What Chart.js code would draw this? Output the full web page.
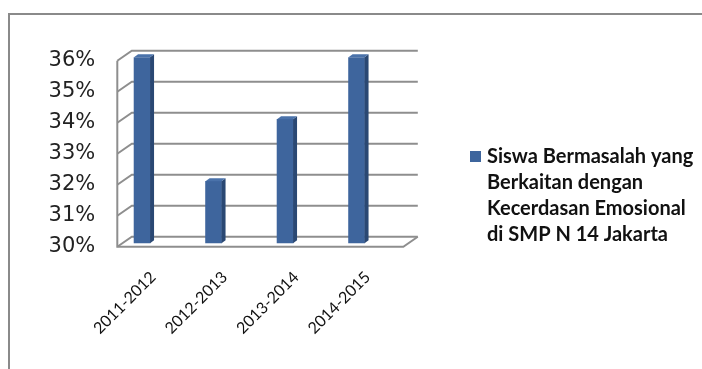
<!DOCTYPE html>
<html>
<head>
<meta charset="utf-8">
<script src="https://cdn.jsdelivr.net/npm/chart.js@4.4.1/dist/chart.umd.min.js"></script>
<style>
  html, body { margin: 0; padding: 0; background: #fff; }
  #wrap { position: relative; width: 702px; height: 369px; }
</style>
</head>
<body>
<div id="wrap"><canvas id="chart"></canvas></div>
<script>
// === DATA ===
const periods = ['2011-2012', '2012-2013', '2013-2014', '2014-2015'];
const siswaPercent = [36, 32, 34, 36];
const yTicks = [30, 31, 32, 33, 34, 35, 36];
const legendLines = ['Siswa Bermasalah yang', 'Berkaitan dengan', 'Kecerdasan Emosional', 'di SMP N 14 Jakarta'];

// === 3D LOOK (estilo Excel) ===
const FRONT = '#3e659d';
const SIDE = '#2a4873';
const TOP = '#4a72aa';
const GRID = '#8e8e8e';
const DEPTH_X = 14.5, DEPTH_Y = -10;       // pared del fondo
const SHIFT_X = -11, SHIFT_Y = -3.4;       // barras dentro de la profundidad
const BAR_SIDE = 4, BAR_RISE = 3;

const frame3d = {
    id: 'frame3d',
    beforeDraw(chart) {
        const ctx = chart.ctx;
        const { left, right, top, bottom } = chart.chartArea;
        const y = chart.scales.y;
        ctx.save();
        // marco exterior
        ctx.strokeStyle = '#8a8a8a';
        ctx.lineWidth = 2;
        ctx.beginPath();
        ctx.moveTo(9, chart.height);
        ctx.lineTo(9, 14);
        ctx.lineTo(chart.width, 14);
        ctx.stroke();
        // líneas de la pared
        ctx.strokeStyle = GRID;
        ctx.lineWidth = 2;
        y.ticks.forEach(t => {
            const py = y.getPixelForValue(t.value);
            ctx.beginPath();
            ctx.moveTo(left, py);
            ctx.lineTo(left + DEPTH_X, py + DEPTH_Y);
            ctx.lineTo(right + DEPTH_X, py + DEPTH_Y);
            ctx.stroke();
        });
        // borde frontal y suelo
        ctx.beginPath();
        ctx.moveTo(left, top);
        ctx.lineTo(left, bottom);
        ctx.lineTo(right, bottom);
        ctx.lineTo(right + DEPTH_X, bottom + DEPTH_Y);
        ctx.stroke();
        ctx.restore();
    },
    beforeDatasetsDraw(chart) {
        chart.ctx.save();
        chart.ctx.translate(SHIFT_X, SHIFT_Y);
    },
    afterDatasetsDraw(chart) {
        const ctx = chart.ctx;
        const floor = chart.chartArea.bottom;
        chart.getDatasetMeta(0).data.forEach(bar => {
            const l = bar.x - bar.width / 2;
            const r = bar.x + bar.width / 2;
            const base = Math.min(bar.base, floor);
            ctx.fillStyle = SIDE;
            ctx.beginPath();
            ctx.moveTo(r, bar.y);
            ctx.lineTo(r + BAR_SIDE, bar.y - BAR_RISE);
            ctx.lineTo(r + BAR_SIDE, base - BAR_RISE);
            ctx.lineTo(r, base);
            ctx.closePath();
            ctx.fill();
            ctx.fillStyle = TOP;
            ctx.beginPath();
            ctx.moveTo(l, bar.y);
            ctx.lineTo(l + BAR_SIDE, bar.y - BAR_RISE);
            ctx.lineTo(r + BAR_SIDE, bar.y - BAR_RISE);
            ctx.lineTo(r, bar.y);
            ctx.closePath();
            ctx.fill();
        });
        ctx.restore();
    },
    afterDraw(chart) {
        // leyenda en varias líneas
        const ctx = chart.ctx;
        ctx.save();
        ctx.fillStyle = FRONT;
        ctx.fillRect(470, 151, 11, 11);
        ctx.fillStyle = '#111';
        ctx.font = 'bold 20px Lato';
        ctx.textBaseline = 'middle';
        legendLines.forEach((line, i) => ctx.fillText(line, 487, 157 + i * 26));
        ctx.restore();
    }
};

const ctx = document.getElementById('chart').getContext('2d');
new Chart(ctx, {
    type: 'bar',
    data: {
        labels: periods,
        datasets: [{
            label: legendLines.join(' '),
            data: siswaPercent,
            backgroundColor: FRONT,
            barThickness: 16
        }]
    },
    options: {
        responsive: true,
        maintainAspectRatio: false,
        animation: false,
        layout: { padding: { left: 0, right: 298.7, top: 60.7, bottom: 0 } },
        plugins: {
            legend: { display: false },
            tooltip: { enabled: false }
        },
        scales: {
            y: {
                min: yTicks[0],
                max: yTicks[yTicks.length - 1],
                border: { display: false },
                grid: { display: false, drawTicks: false },
                afterFit: scale => { scale.width = 117.3; },
                ticks: {
                    stepSize: 1,
                    padding: 22,
                    color: '#222',
                    font: { family: 'DejaVu Sans', size: 21 },
                    callback: value => value + '%'
                }
            },
            x: {
                border: { display: false },
                grid: { display: false, drawTicks: false },
                afterFit: scale => { scale.height = 122.3; },
                ticks: {
                    minRotation: 45,
                    maxRotation: 45,
                    padding: 21,
                    color: '#111',
                    font: { family: 'Lato', size: 16 }
                }
            }
        }
    },
    plugins: [frame3d]
});
</script>
</body>
</html>
